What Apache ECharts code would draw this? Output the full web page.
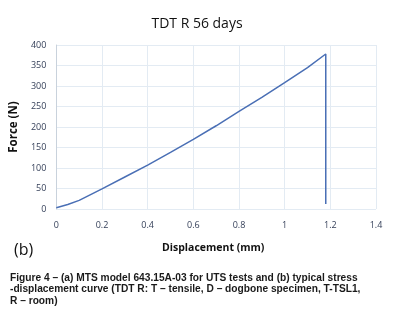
<!DOCTYPE html>
<html>
<head>
<meta charset="utf-8">
<script src="https://cdn.jsdelivr.net/npm/echarts@6/dist/echarts.min.js"></script>
<style>
  html, body { margin: 0; padding: 0; background: #fff; }
  #chart { width: 394px; height: 319px; }
</style>
</head>
<body>
<div id="chart"></div>
<script>
// displacement (mm) and force (N)
const displacement = [0, 0.05, 0.1, 0.2, 0.3, 0.4, 0.5, 0.6, 0.7, 0.8, 0.9, 1.0, 1.1, 1.18, 1.18]
const force = [3, 11, 21, 49, 78, 107, 138, 170, 203, 238, 272, 308, 345, 378, 12]
const xTicks = [0, 0.2, 0.4, 0.6, 0.8, 1, 1.2, 1.4]
const yTicks = [0, 50, 100, 150, 200, 250, 300, 350, 400]

const chart = echarts.init(document.getElementById('chart'))

const caption = [
  'Figure 4 – (a) MTS model 643.15A-03 for UTS tests and (b) typical stress',
  '-displacement curve (TDT R: T – tensile, D – dogbone specimen, T-TSL1,',
  'R – room)'
]

const option = {
  animation: false,
  backgroundColor: '#ffffff',
  textStyle: { fontFamily: 'Open Sans' },
  title: {
    text: 'TDT R 56 days',
    left: 'center',
    top: 12,
    textStyle: { fontSize: 14, fontWeight: 'normal', color: '#111', fontFamily: 'Open Sans' }
  },
  grid: { left: 52, right: 18, top: 45, bottom: 110 },
  xAxis: {
    type: 'value',
    min: 0,
    max: 1.4,
    interval: 0.2,
    axisLine: { show: false },
    axisTick: { show: false },
    splitLine: { lineStyle: { color: '#e3ebf3', width: 1 } },
    axisLabel: {
      color: '#36415a',
      fontSize: 9,
      margin: 12,
      formatter: v => xTicks.find(t => Math.abs(t - v) < 1e-6) + ''
    }
  },
  yAxis: {
    type: 'value',
    min: 0,
    max: 400,
    interval: 50,
    axisLine: { show: true, lineStyle: { color: '#c9d2dc', width: 1 } },
    axisTick: { show: false },
    splitLine: { lineStyle: { color: '#e3ebf3', width: 1 } },
    axisLabel: {
      color: '#36415a',
      fontSize: 9,
      margin: 10,
      formatter: v => yTicks.find(t => t === v) + ''
    },
    name: 'Force (N)',
    nameLocation: 'middle',
    nameGap: 30,
    nameRotate: 90,
    nameTextStyle: { fontSize: 11.5, fontWeight: 'bold', color: '#111' }
  },
  series: [
    {
      type: 'line',
      data: displacement.map((d, i) => [d, force[i]]),
      showSymbol: false,
      lineStyle: { color: '#4a6fb5', width: 1.5 },
      silent: true
    }
  ],
  graphic: [
    {
      type: 'text',
      left: 162,
      top: 243,
      style: { text: 'Displacement (mm)', font: 'bold 10.5px "Open Sans"', fill: '#111' }
    },
    {
      type: 'text',
      left: 14,
      top: 242,
      style: { text: '(b)', font: '16px "Open Sans"', fill: '#111' }
    },
    {
      type: 'text',
      left: 10,
      top: 272,
      style: {
        text: caption.join('\n'),
        font: 'bold 10.2px "Liberation Sans"',
        lineHeight: 11.5,
        fill: '#1a1a1a'
      }
    }
  ]
}

chart.setOption(option)
</script>
</body>
</html>
